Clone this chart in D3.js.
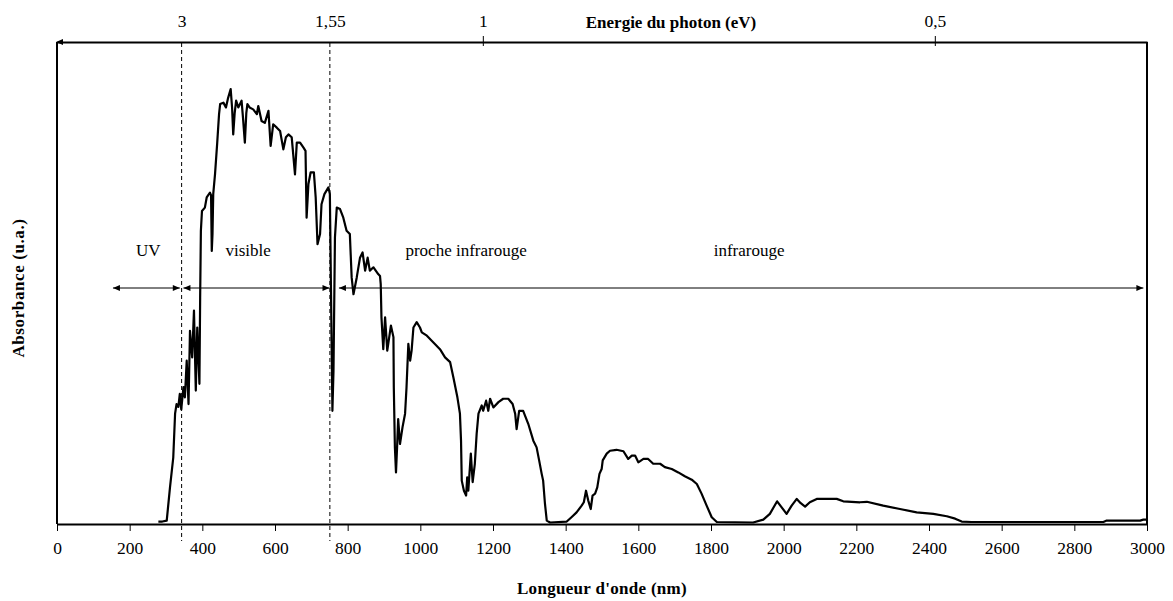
<!DOCTYPE html>
<html><head><meta charset="utf-8">
<script src="https://cdn.jsdelivr.net/npm/d3@7"></script>
<style>body{margin:0;background:#fff}svg{display:block}text{font-family:"Liberation Serif","Times New Roman",serif;fill:#000}</style>
</head><body><svg id="c" width="1173" height="601"></svg>
<script>
// ---- data ----
const wavelengths = [279,290,302,311,320,325,329,334,338,342,348,352,357,362,366,372,377,382,386,392,394,396,399,407,412,421,424,426,428,430,435,441,446,449,458,465,471,478,482,485,489,493,499,508,512,517,521,524,530,540,550,554,563,572,582,588,595,605,614,623,630,637,646,655,660,669,678,684,687,692,698,707,712,717,724,728,736,747,751,754,758,761,765,770,779,788,797,806,811,816,825,834,841,848,855,861,871,884,889,891,893,898,903,909,919,926,927,930,933,936,939,944,951,958,962,967,972,976,981,990,999,1004,1018,1036,1054,1068,1082,1091,1102,1109,1112,1114,1120,1126,1129,1132,1139,1144,1150,1155,1160,1169,1173,1181,1187,1192,1201,1215,1228,1242,1254,1261,1265,1272,1283,1297,1311,1320,1327,1334,1338,1343,1348,1357,1403,1416,1430,1444,1450,1456,1462,1469,1474,1481,1487,1493,1499,1502,1513,1522,1540,1559,1572,1582,1591,1600,1614,1627,1641,1660,1673,1692,1710,1728,1747,1761,1774,1788,1802,1816,1916,1944,1962,1982,1994,2008,2022,2036,2047,2059,2072,2091,2146,2164,2210,2229,2274,2320,2366,2412,2449,2472,2490,2517,2880,2889,2981,2990,3000];
const absorbance = [0.002,0.002,0.004,0.073,0.135,0.226,0.246,0.24,0.267,0.235,0.281,0.26,0.336,0.246,0.398,0.343,0.44,0.274,0.405,0.288,0.467,0.606,0.647,0.654,0.675,0.685,0.68,0.564,0.6,0.682,0.724,0.789,0.848,0.869,0.872,0.862,0.882,0.90,0.86,0.806,0.85,0.876,0.862,0.876,0.84,0.789,0.85,0.869,0.862,0.858,0.848,0.865,0.834,0.83,0.855,0.782,0.827,0.82,0.813,0.775,0.8,0.806,0.8,0.723,0.789,0.789,0.779,0.772,0.633,0.703,0.727,0.727,0.675,0.578,0.599,0.661,0.682,0.696,0.682,0.488,0.232,0.315,0.592,0.654,0.651,0.633,0.606,0.599,0.509,0.474,0.509,0.55,0.561,0.523,0.55,0.523,0.53,0.516,0.512,0.495,0.426,0.36,0.426,0.357,0.409,0.385,0.281,0.156,0.104,0.156,0.215,0.163,0.198,0.226,0.281,0.371,0.336,0.357,0.405,0.416,0.405,0.395,0.388,0.374,0.36,0.343,0.333,0.301,0.26,0.226,0.17,0.087,0.066,0.056,0.094,0.066,0.143,0.084,0.122,0.184,0.226,0.243,0.232,0.253,0.232,0.257,0.239,0.25,0.257,0.257,0.246,0.226,0.194,0.232,0.232,0.205,0.17,0.156,0.129,0.101,0.087,0.039,0.004,0.0,0.002,0.011,0.021,0.035,0.042,0.066,0.046,0.028,0.056,0.06,0.073,0.101,0.111,0.129,0.143,0.149,0.151,0.148,0.132,0.139,0.139,0.125,0.132,0.132,0.122,0.122,0.115,0.111,0.104,0.096,0.089,0.08,0.06,0.035,0.011,0.001,0.0,0.006,0.018,0.044,0.032,0.018,0.035,0.049,0.04,0.033,0.042,0.049,0.049,0.044,0.042,0.043,0.035,0.028,0.021,0.018,0.013,0.008,0.002,0.001,0.001,0.004,0.004,0.006,0.006];
const xTickValues = [0,200,400,600,800,1000,1200,1400,1600,1800,2000,2200,2400,2600,2800,3000];
const energyLabels = ["3","1,55","1","0,5"];
const energyAtWavelength = [343,751,1172,2416];
const dashedAt = [343,751];
const regionNames = ["UV","visible","proche infrarouge","infrarouge"];
const regionLabelAt = [251,526,1126,1905];
const regionArrows = [[154,338],[348,750],[776,2990]];

// ---- layout ----
const svg = d3.select("#c");
const L=57, R=1147, T=42, B=524;
const x = d3.scaleLinear().domain([0,3000]).range([L,R]);
const y = d3.scaleLinear().domain([0,1]).range([522.5,41]);

// frame
svg.append("line").attr("x1",L).attr("x2",L).attr("y1",T).attr("y2",B).attr("stroke","#000").attr("stroke-width",2);
svg.append("line").attr("x1",R).attr("x2",R).attr("y1",T).attr("y2",B).attr("stroke","#000").attr("stroke-width",2);

// bottom axis
const gx = svg.append("g").attr("transform",`translate(0,${B})`)
  .call(d3.axisBottom(x).tickValues(xTickValues).tickFormat(d=>d).tickSize(7).tickSizeOuter(0).tickPadding(11));
gx.select(".domain").attr("stroke-width",2.2);
gx.selectAll(".tick line").attr("stroke-width",1);
gx.selectAll("text").style("font-size","17.5px").style("font-family","Liberation Serif");

// top axis
const gt = svg.append("g").attr("transform",`translate(0,${T})`)
  .call(d3.axisTop(x).tickValues(energyAtWavelength).tickFormat((d,i)=>energyLabels[i]).tickSize(0).tickSizeOuter(0).tickPadding(15));
gt.select(".domain").attr("stroke-width",2.2);
gt.selectAll("text").style("font-size","17.5px").style("font-family","Liberation Serif");
gt.selectAll(".tick").filter((d,i)=>i>=2).append("line").attr("y1",-6).attr("y2",4).attr("stroke","#000").attr("stroke-width",1);
// arrowhead at left of top axis
svg.append("path").attr("d",`M${L-1},${T} l7,-3 l0,6 z`).attr("fill","#000");

// dashed lines
svg.selectAll(".dash").data(dashedAt).enter().append("line")
  .attr("x1",d=>x(d)).attr("x2",d=>x(d)).attr("y1",T+1).attr("y2",541)
  .attr("stroke","#000").attr("stroke-width",1).attr("stroke-dasharray","4,3");

// region arrows
const ay = 288;
regionArrows.forEach(([a,b])=>{
  const x1=x(a), x2=x(b);
  svg.append("line").attr("x1",x1).attr("x2",x2).attr("y1",ay).attr("y2",ay).attr("stroke","#000").attr("stroke-width",1);
  svg.append("path").attr("d",`M${x1},${ay} l7,-3 l0,6 z`).attr("fill","#000");
  svg.append("path").attr("d",`M${x2},${ay} l-7,-3 l0,6 z`).attr("fill","#000");
});
svg.selectAll(".rl").data(regionNames).enter().append("text")
  .attr("x",(d,i)=>x(regionLabelAt[i])).attr("y",256).attr("text-anchor","middle")
  .style("font-size","17px").text(d=>d);

// curve
const pts = wavelengths.map((w,i)=>[w,absorbance[i]]);
svg.append("path").datum(pts)
  .attr("d",d3.line().x(d=>x(d[0])).y(d=>y(d[1])))
  .attr("fill","none").attr("stroke","#000").attr("stroke-width",2.2).attr("stroke-linejoin","round");

// titles
svg.append("text").attr("x",602).attr("y",594).attr("text-anchor","middle")
  .style("font-size","17px").style("font-weight","bold").style("letter-spacing","0.3px").text("Longueur d'onde (nm)");
svg.append("text").attr("x",671).attr("y",28).attr("text-anchor","middle")
  .style("font-size","17px").style("font-weight","bold").text("Energie du photon (eV)");
svg.append("text").attr("transform","translate(24,288) rotate(-90)").attr("text-anchor","middle")
  .style("font-size","17px").style("font-weight","bold").style("letter-spacing","0.6px").text("Absorbance (u.a.)");
</script></body></html>
